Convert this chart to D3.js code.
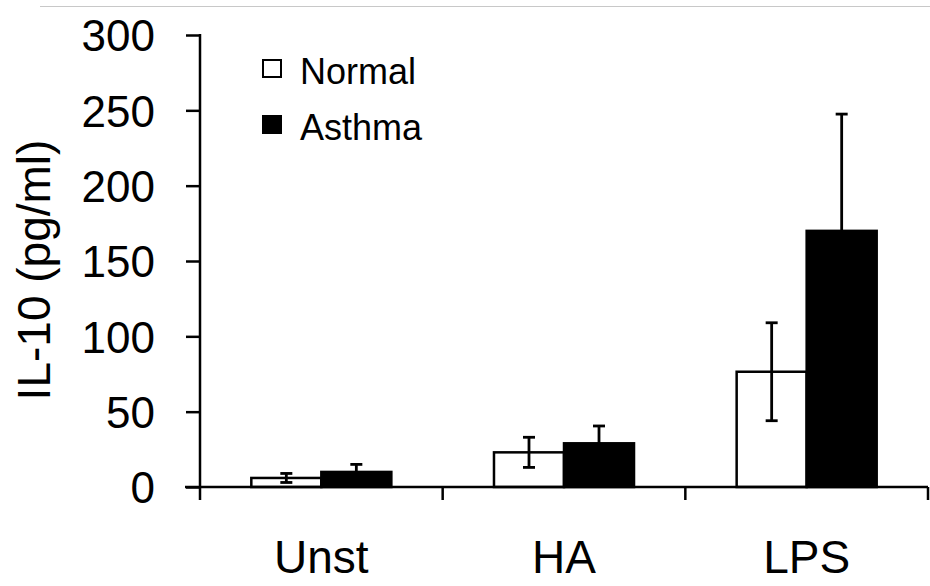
<!DOCTYPE html>
<html><head><meta charset="utf-8">
<script src="https://cdn.jsdelivr.net/npm/d3@7"></script>
<style>body{margin:0;background:#fff}svg{display:block;font-family:"Liberation Sans",Arial,sans-serif}</style>
</head><body>
<svg id="c" width="930" height="586"></svg>
<script>
const categories = ["Unst", "HA", "LPS"];
const seriesNames = ["Normal", "Asthma"];
const normalValues = [6, 23, 76.5];
const normalErrors = [3, 10, 32.5];
const asthmaValues = [10, 29, 170];
const asthmaErrors = [5, 11.5, 77.5];
const yTicks = [0, 50, 100, 150, 200, 250, 300];

const svg = d3.select("#c");
const mLeft = 200, mRight = 928, mTop = 35, mBottom = 487;

const x = d3.scaleBand().domain(categories).range([mLeft, mRight]).padding(0);
const xs = d3.scaleBand().domain(seriesNames).range([0, x.bandwidth()]).paddingInner(0).paddingOuter(0.733);
const y = d3.scaleLinear().domain([0, 300]).range([mBottom, mTop]);

// top gray rule
svg.append("line").attr("x1", 40).attr("x2", 930).attr("y1", 6.5).attr("y2", 6.5)
  .attr("stroke", "#c8c8c8").attr("stroke-width", 1.2);

const data = categories.map((c, i) => [
  {cat: c, s: "Normal", v: normalValues[i], e: normalErrors[i]},
  {cat: c, s: "Asthma", v: asthmaValues[i], e: asthmaErrors[i]}
]).flat();

// bars
svg.append("g").selectAll("rect").data(data).join("rect")
  .attr("x", d => x(d.cat) + xs(d.s))
  .attr("y", d => y(d.v))
  .attr("width", xs.bandwidth())
  .attr("height", d => y(0) - y(d.v))
  .attr("fill", d => d.s === "Normal" ? "#fff" : "#000")
  .attr("stroke", "#000").attr("stroke-width", 2.5);

// error bars
const eb = svg.append("g").attr("stroke", "#000").attr("stroke-width", 2.8);
data.forEach(d => {
  const cx = x(d.cat) + xs(d.s) + xs.bandwidth() / 2;
  const lo = d.s === "Normal" ? d.v - d.e : d.v;
  const hi = d.v + d.e;
  eb.append("line").attr("x1", cx).attr("x2", cx).attr("y1", y(lo)).attr("y2", y(hi));
  eb.append("line").attr("x1", cx - 6).attr("x2", cx + 6).attr("y1", y(hi)).attr("y2", y(hi));
  if (d.s === "Normal")
    eb.append("line").attr("x1", cx - 6).attr("x2", cx + 6).attr("y1", y(lo)).attr("y2", y(lo));
});

// y axis
const yAxis = svg.append("g").attr("transform", `translate(${mLeft},0)`)
  .call(d3.axisLeft(y).tickValues(yTicks).tickSize(14).tickPadding(31).tickSizeOuter(0));
yAxis.select(".domain").attr("stroke-width", 2.5).attr("d", `M0,${mTop - 1}V${mBottom + 13}`);
yAxis.selectAll(".tick line").attr("stroke-width", 2.5);
yAxis.selectAll(".tick text").attr("font-size", 44).attr("fill", "#000")
  .attr("font-family", "Liberation Sans, Arial, sans-serif").attr("dy", "0.36em");

// x axis
const xAxis = svg.append("g").attr("transform", `translate(0,${mBottom})`)
  .call(d3.axisBottom(x).tickSize(0).tickPadding(53));
xAxis.select(".domain").attr("stroke-width", 2.5).attr("d", `M185,0H${mRight}`);
xAxis.selectAll(".tick text").attr("font-size", 46).attr("fill", "#000")
  .attr("font-family", "Liberation Sans, Arial, sans-serif");
// boundary ticks
const bounds = categories.slice(1).map(c => x(c)).concat([mRight]);
xAxis.selectAll(".bt").data(bounds).join("line").attr("class", "bt")
  .attr("x1", d => d).attr("x2", d => d).attr("y1", 0).attr("y2", 13)
  .attr("stroke", "#000").attr("stroke-width", 2.5);

// y label
svg.append("text").attr("transform", `translate(50,270) rotate(-90)`)
  .attr("text-anchor", "middle").attr("font-size", 46).attr("fill", "#000")
  .text("IL-10 (pg/ml)");

// legend
const lg = svg.append("g");
seriesNames.forEach((s, i) => {
  const yy = 60 + i * 56;
  lg.append("rect").attr("x", 263).attr("y", yy).attr("width", 18).attr("height", 17)
    .attr("fill", s === "Normal" ? "#fff" : "#000").attr("stroke", "#000").attr("stroke-width", 2);
  lg.append("text").attr("x", 300).attr("y", yy + 23.5).attr("font-size", 36).attr("fill", "#000").text(s);
});
</script>
</body></html>
